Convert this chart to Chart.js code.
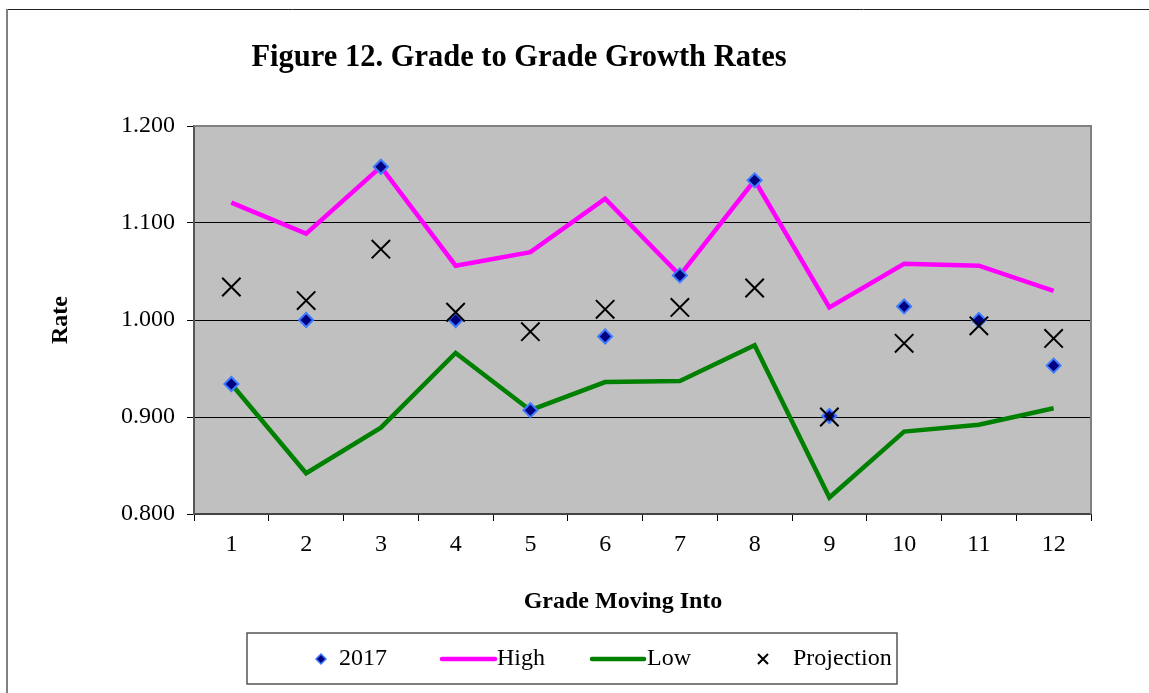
<!DOCTYPE html>
<html>
<head>
<meta charset="utf-8">
<script src="https://cdn.jsdelivr.net/npm/chart.js@4/dist/chart.umd.min.js"></script>
<style>
	html, body {margin:0; padding:0; background:#fff}
	#wrap {width:1149px; height:693px}
</style>
</head>
<body>
<div id="wrap"><canvas id="chart" width="1149" height="693"></canvas></div>
<script>
const grades = ['1','2','3','4','5','6','7','8','9','10','11','12']
const rate2017 = [0.934, 1.000, 1.158, 1.000, 0.907, 0.983, 1.046, 1.144, 0.901, 1.014, 1.000, 0.953]
const highRate = [1.121, 1.089, 1.158, 1.056, 1.070, 1.125, 1.046, 1.144, 1.013, 1.058, 1.056, 1.030]
const lowRate = [0.934, 0.842, 0.889, 0.966, 0.907, 0.936, 0.937, 0.974, 0.817, 0.885, 0.892, 0.909]
const projection = [1.034, 1.020, 1.073, 1.008, 0.988, 1.011, 1.013, 1.033, 0.900, 0.976, 0.994, 0.981]
const legendNames = ['2017', 'High', 'Low', 'Projection']

const serif = "'Liberation Serif', 'Times New Roman', serif"

// frame, plot background, title, x-axis title and legend box
const decor = {
	id: 'decor',
	beforeDraw(chart) {
		const {ctx, chartArea: a} = chart
		ctx.save()
		ctx.fillStyle = '#fff'
		ctx.fillRect(0, 0, chart.width, chart.height)
		ctx.fillStyle = '#c0c0c0'
		ctx.fillRect(a.left, a.top, a.right - a.left, a.bottom - a.top)
		ctx.strokeStyle = '#222'
		ctx.lineWidth = 1
		ctx.beginPath(); ctx.moveTo(7, 9.5); ctx.lineTo(chart.width, 9.5); ctx.stroke()
		ctx.strokeStyle = '#808080'
		ctx.lineWidth = 2
		ctx.beginPath(); ctx.moveTo(7, 9); ctx.lineTo(7, chart.height); ctx.stroke()
		ctx.restore()
	},
	beforeDatasetsDraw(chart) {
		const {ctx, chartArea: a} = chart
		ctx.save()
		ctx.strokeStyle = '#808080'
		ctx.lineWidth = 2
		ctx.beginPath()
		ctx.moveTo(a.left, a.top); ctx.lineTo(a.right, a.top); ctx.lineTo(a.right, a.bottom)
		ctx.stroke()
		ctx.restore()
	},
	afterDraw(chart) {
		const {ctx} = chart
		ctx.save()
		ctx.fillStyle = '#000'
		ctx.textBaseline = 'middle'
		ctx.textAlign = 'center'
		ctx.font = `bold 30.5px ${serif}`
		ctx.fillText('Figure 12. Grade to Grade Growth Rates', 519, 58)
		ctx.font = `bold 24px ${serif}`
		ctx.fillText('Grade Moving Into', 623, 602)

		// legend
		ctx.strokeStyle = '#555'
		ctx.lineWidth = 1.5
		ctx.strokeRect(247, 633, 650, 51)
		const ly = 659
		ctx.font = `24px ${serif}`
		ctx.textAlign = 'left'
		const ds = chart.data.datasets
		// 2017 diamond
		ctx.fillStyle = ds[0].backgroundColor
		ctx.strokeStyle = ds[0].borderColor
		ctx.lineWidth = 1.5
		ctx.beginPath()
		ctx.moveTo(321, ly - 5); ctx.lineTo(326, ly); ctx.lineTo(321, ly + 5); ctx.lineTo(316, ly); ctx.closePath()
		ctx.fill(); ctx.stroke()
		ctx.fillStyle = '#000'
		ctx.fillText(legendNames[0], 339, ly)
		// High
		ctx.lineCap = 'round'
		ctx.strokeStyle = ds[1].borderColor
		ctx.lineWidth = 4.5
		ctx.beginPath(); ctx.moveTo(442, ly); ctx.lineTo(495, ly); ctx.stroke()
		ctx.fillText(legendNames[1], 497, ly)
		// Low
		ctx.strokeStyle = ds[2].borderColor
		ctx.beginPath(); ctx.moveTo(592, ly); ctx.lineTo(644, ly); ctx.stroke()
		ctx.fillText(legendNames[2], 647, ly)
		// Projection
		ctx.lineCap = 'butt'
		ctx.strokeStyle = ds[3].borderColor
		ctx.lineWidth = 2
		ctx.beginPath()
		ctx.moveTo(758, ly - 5); ctx.lineTo(768, ly + 5)
		ctx.moveTo(768, ly - 5); ctx.lineTo(758, ly + 5)
		ctx.stroke()
		ctx.fillText(legendNames[3], 793, ly)
		ctx.restore()
	}
}

const ctx = document.getElementById('chart').getContext('2d')
new Chart(ctx, {
	type: 'line',
	data: {
		labels: grades,
		datasets: [
			{
				label: legendNames[0],
				data: rate2017,
				showLine: false,
				pointStyle: 'rectRot',
				pointRadius: 7,
				pointBorderWidth: 2,
				backgroundColor: '#000080',
				borderColor: '#3d7bff',
				order: 1,
			},
			{
				label: legendNames[1],
				data: highRate,
				borderColor: '#ff00ff',
				borderWidth: 4.5,
				pointRadius: 0,
				tension: 0,
				order: 2,
			},
			{
				label: legendNames[2],
				data: lowRate,
				borderColor: '#008000',
				borderWidth: 4.5,
				pointRadius: 0,
				tension: 0,
				order: 3,
			},
			{
				label: legendNames[3],
				data: projection,
				showLine: false,
				pointStyle: 'crossRot',
				pointRadius: 13,
				pointBorderWidth: 2,
				backgroundColor: '#000',
				borderColor: '#000',
				order: 0,
			},
		],
	},
	options: {
		responsive: false,
		animation: false,
		layout: {
			padding: {left: 40, top: 126, right: 58, bottom: 79},
		},
		plugins: {
			legend: {display: false},
			tooltip: {enabled: false},
		},
		scales: {
			x: {
				offset: true,
				afterFit(scale) { scale.height = 100 },
				grid: {
					offset: true,
					drawOnChartArea: false,
					drawTicks: true,
					tickLength: 7,
					tickColor: '#000',
				},
				border: {display: true, color: '#444', width: 2},
				ticks: {
					color: '#000',
					font: {family: serif, size: 24},
					padding: 9,
					maxRotation: 0,
				},
			},
			y: {
				min: 0.8,
				max: 1.2,
				afterFit(scale) { scale.width = 154 },
				ticks: {
					stepSize: 0.1,
					color: '#000',
					font: {family: serif, size: 24},
					padding: 12,
					callback: (v) => v.toFixed(3),
				},
				grid: {
					color: (c) => (c.tick && c.tick.value > 0.85 && c.tick.value < 1.15) ? '#000' : 'rgba(0,0,0,0)',
					lineWidth: 1,
					drawTicks: true,
					tickLength: 7,
					tickColor: '#000',
				},
				border: {display: true, color: '#555', width: 2},
				title: {
					display: true,
					text: 'Rate',
					color: '#000',
					font: {family: serif, size: 24, weight: 'bold'},
					padding: {top: 6, bottom: 0},
				},
			},
		},
	},
	plugins: [decor],
})
</script>
</body>
</html>
